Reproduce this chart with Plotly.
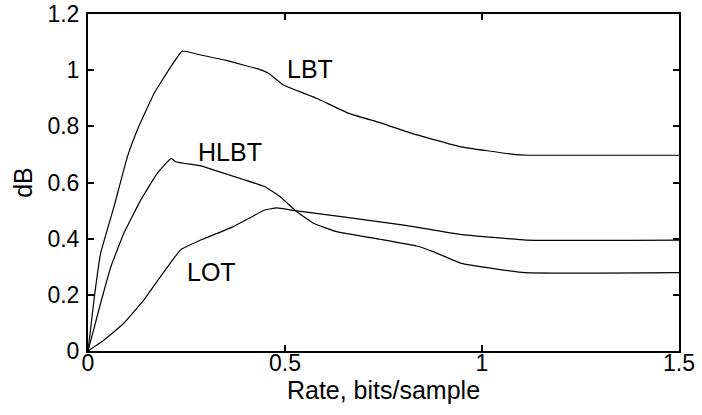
import plotly.graph_objects as go

# Data
lbt_x = [0, 0.015, 0.032, 0.066, 0.1, 0.125, 0.168, 0.21, 0.239, 0.286, 0.35, 0.441, 0.461, 0.496,
         0.58, 0.662, 0.741, 0.822, 0.944, 1.08, 1.118, 1.5]
lbt_y = [0, 0.18, 0.348, 0.514, 0.692, 0.787, 0.918, 1.012, 1.068, 1.054, 1.035, 1.0, 0.986, 0.947,
         0.90, 0.846, 0.813, 0.775, 0.728, 0.70, 0.697, 0.697]

hlbt_x = [0, 0.032, 0.058, 0.091, 0.134, 0.176, 0.211, 0.222, 0.286, 0.318, 0.449, 0.487, 0.53, 0.572,
          0.631, 0.741, 0.834, 0.876, 0.948, 1.109, 1.5]
hlbt_y = [0, 0.17, 0.30, 0.419, 0.538, 0.633, 0.686, 0.674, 0.659, 0.645, 0.585, 0.55, 0.496, 0.455,
          0.425, 0.398, 0.374, 0.354, 0.312, 0.279, 0.279]

lot_x = [0, 0.041, 0.091, 0.142, 0.184, 0.235, 0.286, 0.369, 0.449, 0.479, 0.53, 0.657, 0.741, 0.826,
         0.944, 1.113, 1.5]
lot_y = [0, 0.039, 0.099, 0.182, 0.265, 0.36, 0.395, 0.443, 0.502, 0.510, 0.499, 0.476, 0.46, 0.443,
         0.415, 0.395, 0.395]

labels = ["LBT", "HLBT", "LOT"]
label_x = [0.563, 0.361, 0.314]
label_y = [1.005, 0.708, 0.281]

x_ticks = [0, 0.5, 1, 1.5]
x_tick_text = ["0", "0.5", "1", "1.5"]
y_ticks = [0, 0.2, 0.4, 0.6, 0.8, 1, 1.2]
y_tick_text = ["0", "0.2", "0.4", "0.6", "0.8", "1", "1.2"]

FONT = "Arial, Liberation Sans, sans-serif"

fig = go.Figure()
for xs, ys in [(lbt_x, lbt_y), (hlbt_x, hlbt_y), (lot_x, lot_y)]:
    fig.add_trace(go.Scatter(x=xs, y=ys, mode="lines",
                             line=dict(color="black", width=1.2, shape="spline", smoothing=0.3),
                             showlegend=False, hoverinfo="skip", cliponaxis=False))

for t, lx, ly in zip(labels, label_x, label_y):
    fig.add_annotation(x=lx, y=ly, text=t, showarrow=False,
                       font=dict(family=FONT, size=25, color="black"))

axis_common = dict(showgrid=False, zeroline=False, showline=True, linecolor="black", linewidth=2,
                   mirror="ticks", ticks="inside", ticklen=6, tickwidth=2, tickcolor="black",
                   automargin=False,
                   tickfont=dict(family=FONT, size=23, color="black"))

fig.update_xaxes(range=[0, 1.5], tickvals=x_ticks, ticktext=x_tick_text, ticklabelstandoff=-10,
                 title=dict(text="Rate, bits/sample", font=dict(family=FONT, size=25, color="black"),
                            standoff=0),
                 **axis_common)
fig.update_yaxes(range=[0, 1.2], tickvals=y_ticks, ticktext=y_tick_text, ticklabelstandoff=2,
                 title=dict(text="dB", font=dict(family=FONT, size=25, color="black"), standoff=8),
                 **axis_common)

fig.update_layout(width=702, height=415, margin=dict(l=88, r=23, t=14, b=64),
                  plot_bgcolor="white", paper_bgcolor="white")

fig.write_html("out.html", config={"displayModeBar": False},
               post_script="document.body.style.margin='0';")
